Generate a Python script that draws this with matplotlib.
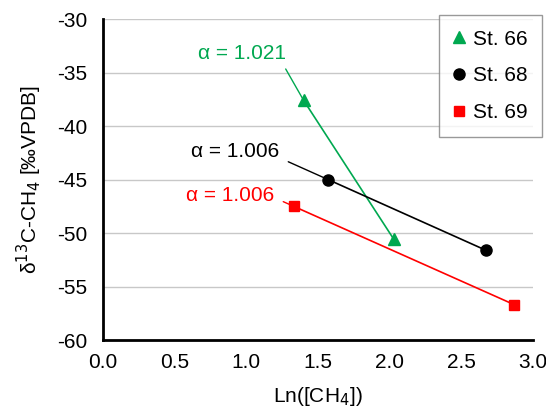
import matplotlib.pyplot as plt

plt.rcParams['font.family'] = ['Liberation Sans', 'DejaVu Sans']
plt.rcParams['axes.unicode_minus'] = False

# datos
st66_x = [1.40, 2.03]
st66_y = [-37.6, -50.6]
st68_x = [1.57, 2.67]
st68_y = [-45.0, -51.6]
st69_x = [1.33, 2.87]
st69_y = [-47.5, -56.7]

etiquetas = ["St. 66", "St. 68", "St. 69"]
alfas = ["α = 1.021", "α = 1.006", "α = 1.006"]
VERDE = "#00a850"
ROJO = "#ff0000"
FS = 15

fig = plt.figure(figsize=(5.46, 4.09), dpi=100)
ax = fig.add_axes([0.1886, 0.1687, 0.7874, 0.7848])

ax.plot(st66_x, st66_y, "-", color=VERDE, lw=1.2)
ax.plot(st68_x, st68_y, "-", color="black", lw=1.2)
ax.plot(st69_x, st69_y, "-", color=ROJO, lw=1.2)
h1, = ax.plot(st66_x, st66_y, "^", color=VERDE, ms=8, ls="none", label=etiquetas[0])
h2, = ax.plot(st68_x, st68_y, "o", color="black", ms=8, ls="none", label=etiquetas[1])
h3, = ax.plot(st69_x, st69_y, "s", color=ROJO, ms=7.5, ls="none", label=etiquetas[2])

# etiquetas alfa
ax.text(0.97, -33.2, alfas[0], color=VERDE, fontsize=FS, ha="center", va="center")
ax.text(0.92, -42.4, alfas[1], color="black", fontsize=FS, ha="center", va="center")
ax.text(0.89, -46.45, alfas[2], color=ROJO, fontsize=FS, ha="center", va="center")

# lineas guia
ax.annotate("", xy=(st66_x[0], st66_y[0]), xytext=(1.275, -34.67),
            arrowprops=dict(arrowstyle="-", color=VERDE, lw=1.0, shrinkA=0, shrinkB=0))
ax.annotate("", xy=(st68_x[0], st68_y[0]), xytext=(1.293, -43.34),
            arrowprops=dict(arrowstyle="-", color="black", lw=1.0, shrinkA=0, shrinkB=0))
ax.annotate("", xy=(st69_x[0], st69_y[0]), xytext=(1.258, -47.07),
            arrowprops=dict(arrowstyle="-", color=ROJO, lw=1.0, shrinkA=0, shrinkB=0))

ax.set_xlim(0, 3.0)
ax.set_ylim(-60, -30)
ax.set_xticks([0.0, 0.5, 1.0, 1.5, 2.0, 2.5, 3.0])
ax.set_xticklabels(["0.0", "0.5", "1.0", "1.5", "2.0", "2.5", "3.0"])
ax.set_yticks(range(-60, -29, 5))
ax.yaxis.grid(True, color="#c8c8c8", lw=1.0)
ax.set_axisbelow(True)
for lado in ["top", "right"]:
    ax.spines[lado].set_visible(False)
for lado in ["left", "bottom"]:
    ax.spines[lado].set_linewidth(2.0)
ax.tick_params(axis="y", length=0, labelsize=FS, pad=11)
ax.tick_params(axis="x", length=0, labelsize=FS, pad=9)

ax.set_xlabel("Ln([CH$_4$])", fontsize=FS, labelpad=10)
ax.set_ylabel("δ$^{13}$C-CH$_4$ [‰VPDB]", fontsize=FS, labelpad=10)

leg = fig.legend(handles=[h1, h2, h3], loc="upper right",
                 bbox_to_anchor=(0.993, 0.963), fontsize=FS, frameon=True,
                 fancybox=False, edgecolor="#808080", handlelength=0.6,
                 handletextpad=0.35, labelspacing=0.85, borderpad=0.7,
                 borderaxespad=0)
leg.get_frame().set_linewidth(1.0)

fig.savefig("out.png", dpi=100)
